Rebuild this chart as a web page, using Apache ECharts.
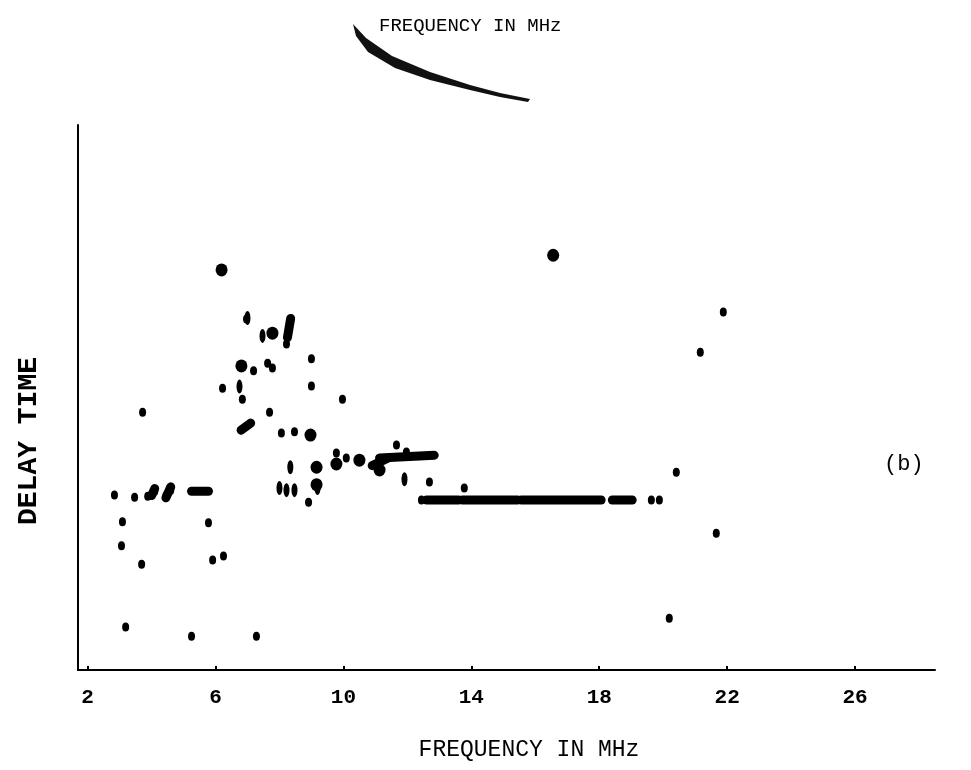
<!DOCTYPE html>
<html><head><meta charset="utf-8">
<script src="https://cdn.jsdelivr.net/npm/echarts@6/dist/echarts.min.js"></script>
<style>html,body{margin:0;padding:0;background:#fff}#c{width:971px;height:770px}</style>
</head><body><div id="c"></div>
<script>
// Frequency (MHz) and delay time (arbitrary units, 0-100)
const xTicks = [2, 6, 10, 14, 18, 22, 26];
const dots = [
  [2.84,32.1],[3.47,31.7],[3.09,27.2],[3.06,22.8],[3.69,19.4],[3.19,7.9],[3.72,47.3],
  [5.25,6.2],[7.28,6.2],[5.78,27.0],[5.91,20.2],[6.25,20.9],[6.97,64.4],[8.22,59.8],
  [9.0,57.1],[7.19,54.9],[6.22,51.7],[6.84,49.7],[9.0,52.1],[7.69,47.3],[9.97,49.7],
  [8.06,43.5],[8.47,43.7],[8.91,30.8],[9.78,39.8],[10.09,38.9],[11.66,41.3],[11.97,40.0],
  [12.69,34.5],[13.78,33.4],[12.44,31.2],[19.63,31.2],[19.88,31.2],[20.41,36.3],
  [21.88,65.7],[21.16,58.3],[21.66,25.1],[20.19,9.5],[7.63,56.3],[7.78,55.4],
  [3.88,31.9],[4.1,32.8],[4.45,32.0],[4.6,33.0]
];
const bigDots = [
  [6.19,73.4],[16.56,76.1],[6.81,55.8],[7.78,61.8],[8.97,43.1],[9.16,37.2],[9.16,34.0],
  [10.5,38.5],[11.13,36.7],[9.78,37.8]
];
const tallDots = [
  [7.47,61.3],[8.28,62.8],[8.34,37.2],[8.0,33.4],[8.22,33.0],[8.47,33.0],[11.91,35.0],
  [9.19,33.4],[6.75,52.0],[7.0,64.6]
];
const segments = [
  [5.25,32.8,5.78,32.8],
  [6.8,44.0,7.1,45.3],
  [10.9,37.5,11.4,38.9],
  [11.13,38.9,12.84,39.4],
  [12.6,31.2,13.6,31.2],
  [13.72,31.2,15.44,31.2],
  [15.56,31.2,18.06,31.2],
  [18.41,31.2,19.03,31.2],
  [8.25,61.0,8.35,64.5],
  [4.0,32.0,4.1,33.3],
  [4.45,31.6,4.6,33.6]
];

const chart = echarts.init(document.getElementById('c'));
const font = '"Liberation Mono", "DejaVu Sans Mono", monospace';
const segSeries = segments.map(s => ({
  type: 'line', data: [[s[0], s[1]], [s[2], s[3]]], symbol: 'none', silent: true,
  lineStyle: { color: '#000', width: 9, cap: 'round', opacity: 1 }
}));
const ink = { color: '#000', opacity: 1 };
chart.setOption({
  animation: false,
  backgroundColor: '#fff',
  grid: { left: 78, top: 125, right: 36, bottom: 100 },
  xAxis: {
    type: 'value', min: 1.7, max: 28.5,
    axisLine: { lineStyle: { color: '#000', width: 2 } },
    axisTick: { inside: true, length: 4, customValues: xTicks, lineStyle: { color: '#000', width: 2 } },
    axisLabel: { customValues: xTicks, color: '#000', fontFamily: font, fontSize: 21, fontWeight: 'bold', margin: 17 },
    splitLine: { show: false }
  },
  yAxis: {
    type: 'value', min: 0, max: 100,
    axisLine: { show: true, lineStyle: { color: '#000', width: 2 } },
    axisTick: { show: false }, axisLabel: { show: false }, splitLine: { show: false }
  },
  title: {
    text: 'FREQUENCY IN MHz', left: 374, top: 11,
    textStyle: { color: '#000', fontFamily: font, fontSize: 19, fontWeight: 'normal' }
  },
  graphic: [
    { type: 'text', x: 29, y: 441, rotation: Math.PI / 2,
      style: { text: 'DELAY TIME', fill: '#000', font: 'bold 28px ' + font, align: 'center', verticalAlign: 'middle' } },
    { type: 'text', x: 529, y: 750,
      style: { text: 'FREQUENCY IN MHz', fill: '#000', font: '23px ' + font, align: 'center', verticalAlign: 'middle' } },
    { type: 'text', left: 884, top: 453, style: { text: '(b)', fill: '#000', font: '22px ' + font } },
    { type: 'polygon', shape: { points: [[353,24],[366,38],[392,56],[430,72],[470,85],[500,93],[530,99],[528,102],[500,97],[470,90],[430,80],[395,68],[368,52],[356,36]] },
      style: { fill: '#111' } }
  ],
  series: [
    { type: 'scatter', data: dots, symbol: 'circle', symbolSize: [7, 9], itemStyle: ink },
    { type: 'scatter', data: bigDots, symbol: 'circle', symbolSize: [12, 13], itemStyle: ink },
    { type: 'scatter', data: tallDots, symbol: 'circle', symbolSize: [6, 14], itemStyle: ink }
  ].concat(segSeries)
});
</script></body></html>
